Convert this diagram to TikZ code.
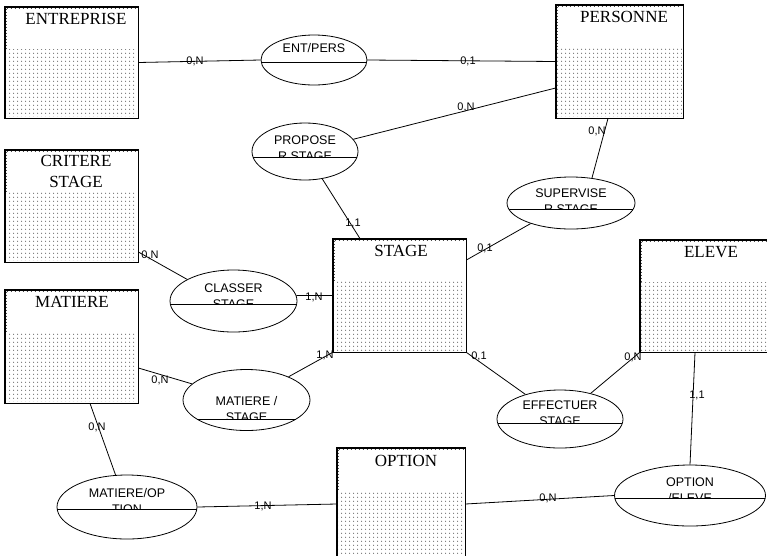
\documentclass[tikz,border=0pt]{standalone}
\usepackage{fontspec}
\setmainfont{Liberation Serif}
\newfontfamily\arialf{Liberation Sans}
\usetikzlibrary{patterns,shapes.geometric}
\pgfdeclarepatternformonly{erdots}{\pgfpointorigin}{\pgfpoint{4pt}{3.7pt}}{\pgfpoint{4pt}{3.7pt}}{%
  \pgfpathcircle{\pgfpoint{2pt}{1.85pt}}{0.6pt}\pgfusepath{fill}}
\tikzset{
  entity/.style={draw, rectangle, inner sep=0pt, line width=0.8pt},
  rel/.style={draw, ellipse, inner sep=0pt, line width=0.8pt},
  ename/.style={font=\fontsize{17}{20}\selectfont, inner sep=0pt},
  rname/.style={font=\arialf\fontsize{12.5}{14}\selectfont, inner sep=0pt},
  card/.style={font=\arialf\fontsize{11}{12}\selectfont, inner sep=0pt},
  conn/.style={line width=0.8pt},
}
% entity: name, cx, cy, w, h
\newcommand{\erent}[5]{%
  \node[entity, minimum width=#4pt, minimum height=#5pt] (#1) at (#2,#3) {};
  \fill[pattern=erdots, pattern color=black!75] ([xshift=1.5pt,yshift=-43pt]#1.north west) rectangle ([xshift=-1.5pt,yshift=1.5pt]#1.south east);
  \draw[black!70, line width=0.7pt, dash pattern=on 0.7pt off 2.3pt] ([xshift=2pt,yshift=-2pt]#1.north west) -- ([xshift=2pt,yshift=-43pt]#1.north west);
  \draw[black!70, line width=0.7pt, dash pattern=on 0.7pt off 3.3pt] ([xshift=2pt,yshift=-2pt]#1.north west) -- ([xshift=-2pt,yshift=-2pt]#1.north east);
  \draw[line width=0.8pt] (#1.north west) rectangle (#1.south east);
}
% relation: name, cx, cy, w, h, lineY, text1Y, text1, text2
\newcommand{\errel}[9]{%
  \node[rel, minimum width=#4pt, minimum height=#5pt] (#1) at (#2,#3) {};
  \draw[line width=0.8pt] ({#2-#4/2*sqrt(1-(2*(#6-#3)/#5)^2)},#6) -- ({#2+#4/2*sqrt(1-(2*(#6-#3)/#5)^2)},#6);
  \node[rname] (#1-a) at (#2,#7) {#8};
  \begin{scope}
    \clip ({#2-#4/2},{#6-0.6}) rectangle ({#2+#4/2},{#6-30});
    \node[rname] (#1-b) at (#2,{#7+16.5}) {#9};
  \end{scope}
}
\begin{document}
\begin{tikzpicture}[x=1pt,y=-1pt]
\useasboundingbox (0,0) rectangle (767,555);
\begin{scope}
\clip (0,0) rectangle (767,555);
% entities
\erent{ent}{71.5}{62.5}{133}{111}
\node[ename] (ent-t) at (76,19) {ENTREPRISE};
\erent{pers}{619.5}{61.5}{127}{113}
\node[ename] (pers-t) at (624,17) {PERSONNE};
\erent{crit}{71.5}{206}{133}{112}
\node[ename, align=center, font=\fontsize{17}{21}\selectfont] (crit-t) at (76,171.5) {CRITERE\\STAGE};
\erent{mat}{71.5}{346.5}{133}{113}
\node[ename] (mat-t) at (72,302) {MATIERE};
\erent{stage}{399.5}{295.5}{133}{113}
\node[ename] (stage-t) at (401,251) {STAGE};
\erent{ele}{704}{296}{128}{112}
\node[ename] (ele-t) at (711,252) {ELEVE};
\erent{opt}{401}{504}{128}{112}
\node[ename] (opt-t) at (406,461) {OPTION};
% relations
\errel{entpers}{314}{60}{106}{50}{62}{48}{ENT/PERS}{}
\errel{prop}{305}{151.5}{106}{57}{157}{140}{PROPOSE}{R STAGE}
\errel{sup}{571}{203}{128}{52}{209}{193}{SUPERVISE}{R STAGE}
\errel{cls}{233.5}{301}{127}{62}{304}{288}{CLASSER}{STAGE}
\errel{matst}{246.5}{400}{127}{61}{419}{401}{MATIERE /}{STAGE}
\errel{eff}{560}{419}{126}{58}{423}{405}{EFFECTUER}{STAGE}
\errel{matopt}{127}{507}{140}{64}{509}{493}{MATIERE/OP}{TION}
\errel{optel}{690}{495.5}{151}{61}{498}{482}{OPTION}{/ELEVE}
% connectors
\draw[conn] (ent.east) -- (entpers.west);
\draw[conn] (entpers.east) -- (pers.west);
\draw[conn] ([yshift=-26.5pt]pers.west) -- (prop);
\draw[conn] (prop) -- ([xshift=-39.5pt]stage.north);
\draw[conn] ([xshift=-11.5pt]pers.south) -- (sup.50);
\draw[conn] (sup.207) -- ([yshift=35.5pt]stage.east);
\draw[conn] ([yshift=-46pt]crit.east) -- (cls.155);
\draw[conn] (cls.5) -- (stage.west);
\draw[conn] ([yshift=-21.5pt]mat.east) -- (matst);
\draw[conn] (matst) -- (stage.south west);
\draw[conn] (stage.south east) -- (eff);
\draw[conn] (eff) -- (ele.south west);
\draw[conn] ([xshift=18.5pt]mat.south) -- (matopt);
\draw[conn] (matopt.east) -- (opt.west);
\draw[conn] (opt.east) -- (optel.west);
\draw[conn] (optel.north) -- ([xshift=-9pt]ele.south);
% cardinalities
\node[card] (c1) at (195,61) {0,N};
\node[card] (c2) at (468,61) {0,1};
\node[card] (c3) at (466,107) {0,N};
\node[card] (c4) at (353,223) {1,1};
\node[card] (c5) at (597,131) {0,N};
\node[card] (c6) at (485,248) {0,1};
\node[card] (c7) at (150,255) {0,N};
\node[card] (c8) at (314,297) {1,N};
\node[card] (c9) at (160,380) {0,N};
\node[card] (c10) at (325,355) {1,N};
\node[card] (c11) at (479,356) {0,1};
\node[card] (c12) at (633,357) {0,N};
\node[card] (c13) at (97,427) {0,N};
\node[card] (c14) at (263,506) {1,N};
\node[card] (c15) at (548,498) {0,N};
\node[card] (c16) at (697,395) {1,1};
\end{scope}
\end{tikzpicture}
\end{document}
